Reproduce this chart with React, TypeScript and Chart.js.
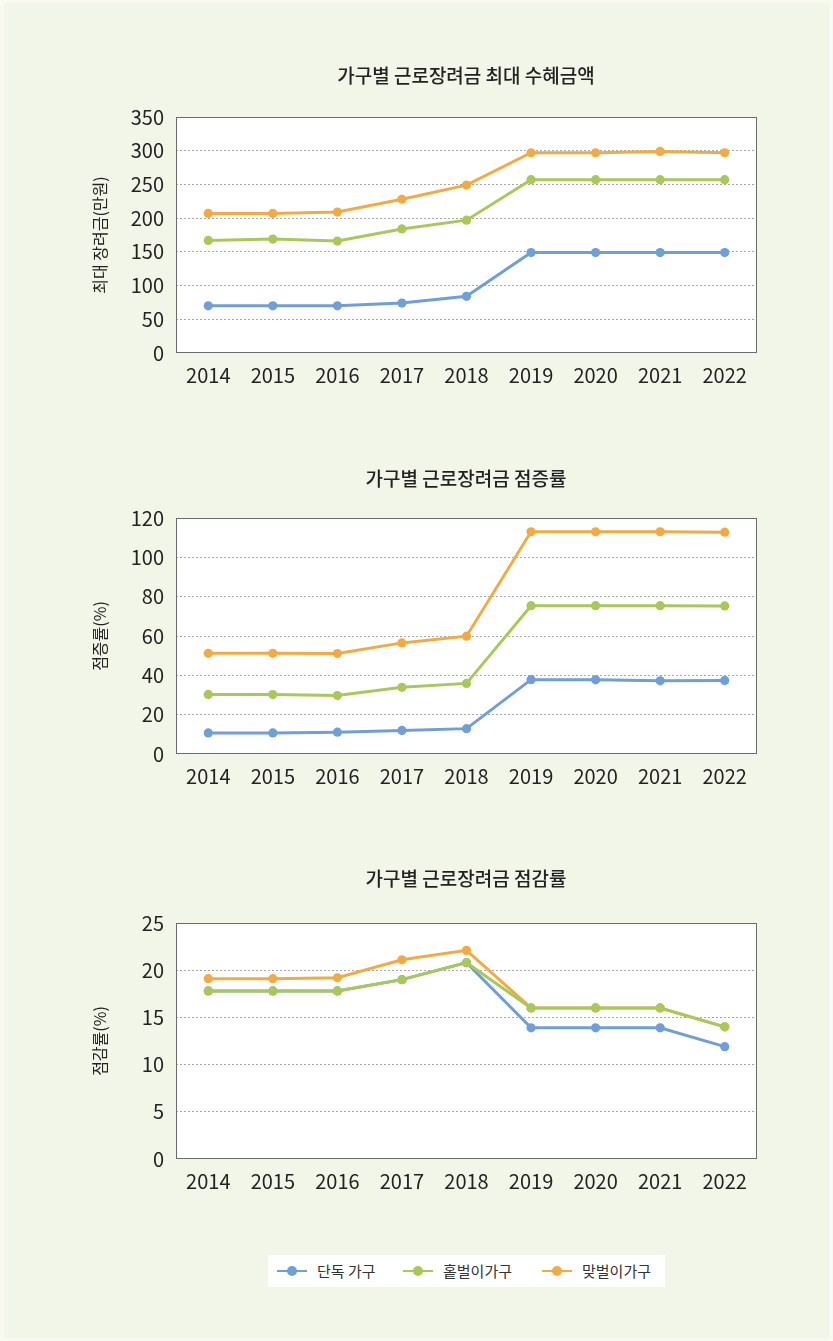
import React, { useEffect, useRef } from "react";
import { Chart, registerables } from "chart.js";

Chart.register(...registerables);

const FONT = "'Noto Sans CJK KR', 'Noto Sans', sans-serif";

const years = ["2014", "2015", "2016", "2017", "2018", "2019", "2020", "2021", "2022"];
const seriesNames = ["단독 가구", "홑벌이가구", "맞벌이가구"];
const seriesColors = ["#6f9fd6", "#a8c95a", "#f2aa45"];

// Chart 1: 최대 수혜금액 (만원)
const maxSingle = [70, 70, 70, 74, 84, 149, 149, 149, 149];
const maxOneEarner = [167, 169, 166, 184, 197, 257, 257, 257, 257];
const maxDual = [207, 207, 209, 228, 249, 297, 297, 299, 297];

// Chart 2: 점증률 (%)
const incSingle = [10.7, 10.7, 11.1, 12.0, 12.9, 37.8, 37.7, 37.2, 37.4];
const incOneEarner = [30.3, 30.2, 29.7, 33.9, 35.9, 75.4, 75.4, 75.4, 75.3];
const incDual = [51.2, 51.2, 51.1, 56.5, 59.9, 113.0, 113.0, 113.0, 112.8];

// Chart 3: 점감률 (%)
const decSingle = [17.8, 17.8, 17.8, 19.0, 20.8, 13.9, 13.9, 13.9, 11.9];
const decOneEarner = [17.8, 17.8, 17.8, 19.0, 20.8, 16.0, 16.0, 16.0, 14.0];
const decDual = [19.1, 19.1, 19.2, 21.1, 22.1, 16.0, 16.0, 16.0, 14.0];

const titles = ["가구별 근로장려금 최대 수혜금액", "가구별 근로장려금 점증률", "가구별 근로장려금 점감률"];
const yTitles = ["최대 장려금(만원)", "점증률(%)", "점감률(%)"];
const yMax = [350, 120, 25];
const yStep = [50, 20, 5];

const boxPlugin = {
  id: "plotBox",
  beforeDraw(chart: any) {
    const { ctx, chartArea: a } = chart;
    ctx.save();
    ctx.fillStyle = "#ffffff";
    ctx.fillRect(a.left, a.top, a.right - a.left, a.bottom - a.top);
    ctx.restore();
  },
  beforeDatasetsDraw(chart: any) {
    const { ctx, chartArea: a } = chart;
    ctx.save();
    ctx.strokeStyle = "#6b6b6b";
    ctx.lineWidth = 1;
    ctx.strokeRect(Math.round(a.left) + 0.5, Math.round(a.top) + 0.5, Math.round(a.right - a.left) - 1, Math.round(a.bottom - a.top) - 1);
    ctx.restore();
  },
};

function makeConfig(idx: number, data: number[][]): any {
  const order = [2, 0, 1];
  return {
    type: "line",
    data: {
      labels: years,
      datasets: data.map((d, i) => ({
        label: seriesNames[i],
        data: d,
        borderColor: seriesColors[i],
        backgroundColor: seriesColors[i],
        pointBackgroundColor: seriesColors[i],
        pointBorderColor: seriesColors[i],
        borderWidth: 3,
        pointRadius: 4.6,
        pointBorderWidth: 0,
        tension: 0,
        order: order[i],
      })),
    },
    options: {
      responsive: false,
      animation: false,
      devicePixelRatio: 1,
      layout: { padding: { left: 0, right: 76, top: 117, bottom: 0 } },
      plugins: {
        legend: { display: false },
        tooltip: { enabled: false },
        title: { display: false },
      },
      scales: {
        x: {
          offset: true,
          grid: { display: false, drawTicks: false },
          border: { display: false },
          ticks: { color: "#222222", font: { family: FONT, size: 20 }, padding: 10, maxRotation: 0 },
          afterFit: (s: any) => {
            s.height = 47;
          },
        },
        y: {
          min: 0,
          max: yMax[idx],
          ticks: { stepSize: yStep[idx], color: "#222222", font: { family: FONT, size: 20 }, padding: 12 },
          grid: {
            drawTicks: false,
            color: (c: any) => (c.tick && (c.tick.value === 0 || c.tick.value === yMax[idx]) ? "rgba(0,0,0,0)" : "#a6a6a6"),
            lineWidth: 1,
          },
          border: { display: false, dash: [2, 2] },
          title: {
            display: true,
            text: yTitles[idx],
            color: "#222222",
            font: { family: FONT, size: 16, lineHeight: 1.2 },
            padding: { top: 90.4, bottom: 0 },
          },
          afterFit: (s: any) => {
            s.width = 176;
          },
        },
      },
    },
    plugins: [boxPlugin],
  };
}

function LineChart({ idx, data, top, titleY }: { idx: number; data: number[][]; top: number; titleY: number }) {
  const ref = useRef<HTMLCanvasElement | null>(null);
  useEffect(() => {
    if (!ref.current) return;
    const chart = new Chart(ref.current, makeConfig(idx, data));
    return () => chart.destroy();
  }, []);
  return (
    <>
      <canvas ref={ref} width={833} height={400} style={{ position: "absolute", left: 0, top, width: 833, height: 400 }} />
      <div
        style={{
          position: "absolute",
          left: 266,
          width: 400,
          top: titleY - 15,
          height: 30,
          lineHeight: "30px",
          textAlign: "center",
          fontFamily: FONT,
          fontSize: 19,
          fontWeight: 500,
          color: "#222222",
          whiteSpace: "nowrap",
        }}
      >
        {titles[idx]}
      </div>
    </>
  );
}

function Legend() {
  const items = [
    { x: 277, tx: 317 },
    { x: 403, tx: 443 },
    { x: 542, tx: 582 },
  ];
  return (
    <div style={{ position: "absolute", left: 268, top: 1255, width: 397, height: 32, background: "#ffffff" }}>
      {items.map((it, i) => (
        <React.Fragment key={i}>
          <div style={{ position: "absolute", left: it.x - 268, top: 15, width: 30, height: 2, background: seriesColors[i] }} />
          <div style={{ position: "absolute", left: it.x - 268 + 10, top: 11, width: 10, height: 10, borderRadius: 5, background: seriesColors[i] }} />
          <div style={{ position: "absolute", left: it.tx - 268, top: 0, height: 32, lineHeight: "32px", fontFamily: FONT, fontSize: 15, color: "#333333", whiteSpace: "nowrap" }}>
            {seriesNames[i]}
          </div>
        </React.Fragment>
      ))}
    </div>
  );
}

export default function App() {
  useEffect(() => {
    document.body.style.margin = "0";
  }, []);
  return (
    <div style={{ position: "absolute", left: 0, top: 0, width: 833, height: 1341, background: "#f8faf2", overflow: "hidden" }}>
      <div style={{ position: "absolute", left: 4, top: 3, width: 825, height: 1335, background: "#f2f6e8" }} />
      <LineChart idx={0} data={[maxSingle, maxOneEarner, maxDual]} top={0} titleY={75} />
      <LineChart idx={1} data={[incSingle, incOneEarner, incDual]} top={401} titleY={478} />
      <LineChart idx={2} data={[decSingle, decOneEarner, decDual]} top={806} titleY={878} />
      <Legend />
    </div>
  );
}
